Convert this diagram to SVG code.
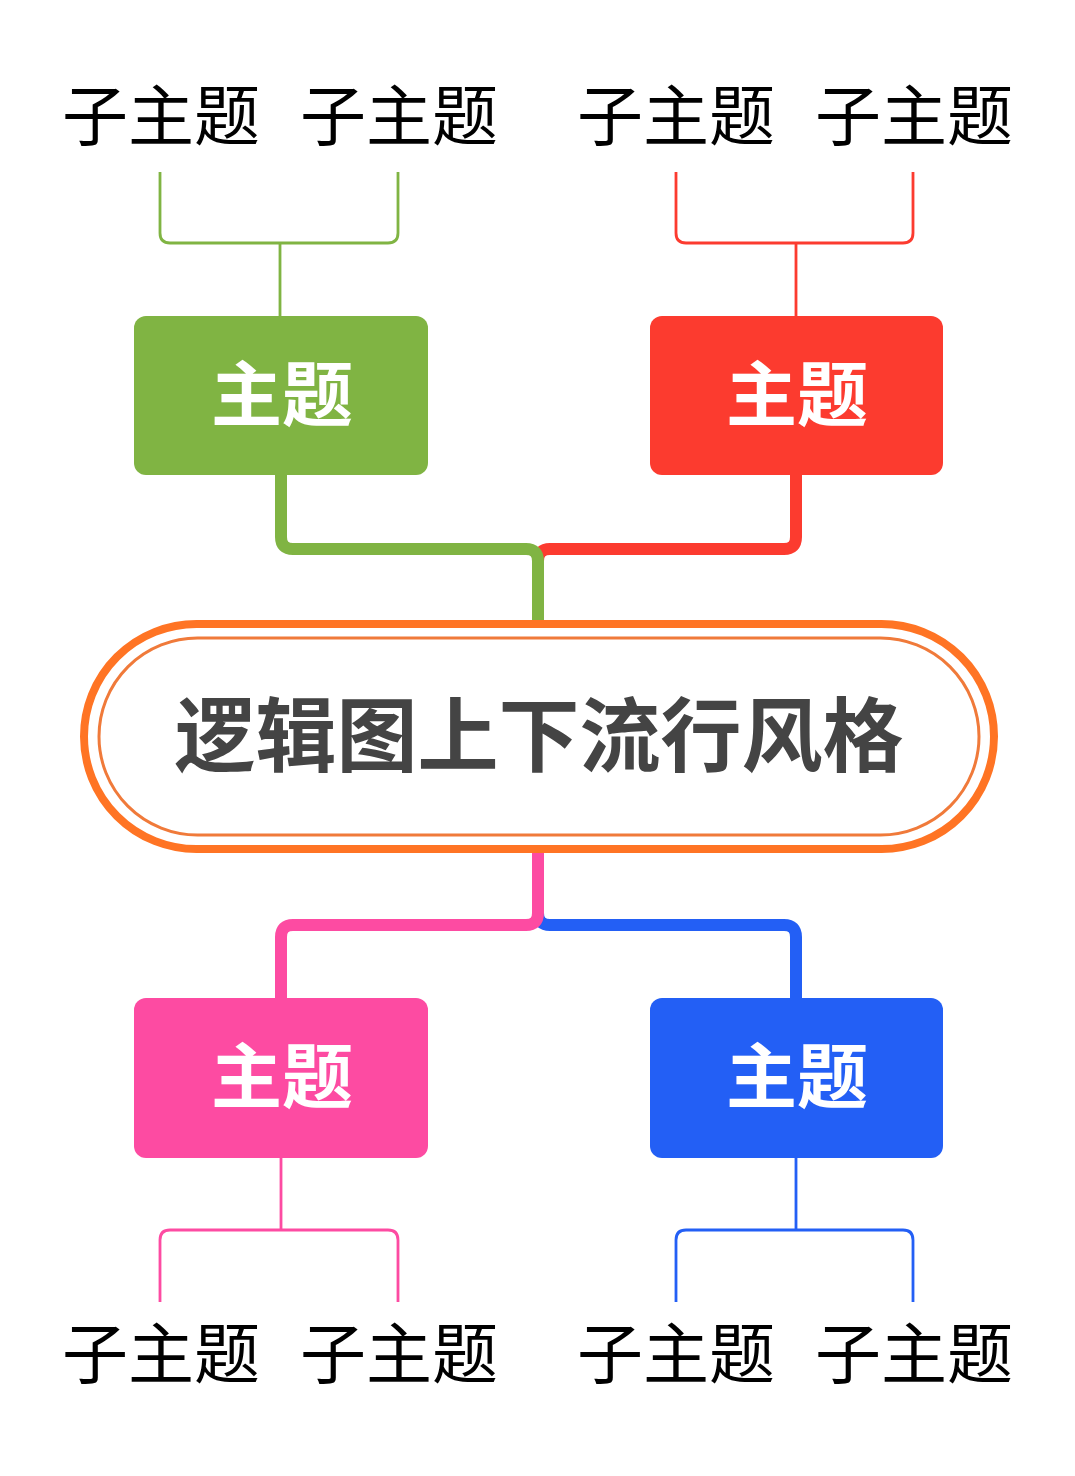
<svg xmlns="http://www.w3.org/2000/svg" width="1075" height="1476" viewBox="0 0 1075 1476">
<style>
.sub{font-family:"Noto Sans CJK SC","Noto Sans",sans-serif;font-size:66px;fill:#000;text-anchor:middle}
.topic{font-family:"Noto Sans CJK SC","Noto Sans",sans-serif;font-size:71px;font-weight:bold;fill:#fff;text-anchor:middle}
.title{font-family:"Noto Sans CJK SC","Noto Sans",sans-serif;font-size:81px;font-weight:bold;fill:#444;text-anchor:middle}
.thick{fill:none;stroke-width:12;stroke-linejoin:round}
.thin{fill:none;stroke-width:2.8}
</style>
<rect width="1075" height="1476" fill="#fff"/>
<g id="connectors">
<path class="thick" stroke="#FC3B2F" d="M796 475 V537 Q796 549 784 549 H550 Q538 549 538 561"/>
<path class="thick" stroke="#80B443" d="M281 475 V537 Q281 549 293 549 H526 Q538 549 538 561 V624"/>
<path class="thick" stroke="#235FF5" d="M538 913 Q538 925 550 925 H784 Q796 925 796 937 V998"/>
<path class="thick" stroke="#FD4BA2" d="M538 850 V913 Q538 925 526 925 H293 Q281 925 281 937 V998"/>
<path class="thin" stroke="#80B443" d="M160 172 V233 Q160 243 170 243 H388 Q398 243 398 233 V172 M280 243 V316"/>
<path class="thin" stroke="#FC3B2F" d="M676 172 V233 Q676 243 686 243 H903 Q913 243 913 233 V172 M796 243 V316"/>
<path class="thin" stroke="#FD4BA2" d="M281 1158 V1230 M160 1302 V1240 Q160 1230 170 1230 H388 Q398 1230 398 1240 V1302"/>
<path class="thin" stroke="#235FF5" d="M796 1158 V1230 M676 1302 V1240 Q676 1230 686 1230 H903 Q913 1230 913 1240 V1302"/>
</g>
<g id="root">
<rect x="84" y="624" width="910" height="225" rx="112.5" fill="#fff" stroke="#FF7424" stroke-width="8"/>
<rect x="99" y="638" width="880" height="197" rx="98.5" fill="none" stroke="#F07A3A" stroke-width="3"/>
<text class="title" x="539" y="765">逻辑图上下流行风格</text>
</g>
<g id="topic-green">
<rect x="134" y="316" width="294" height="159" rx="12" fill="#80B443"/>
<text class="topic" x="282" y="420">主题</text>
</g>
<g id="topic-red">
<rect x="650" y="316" width="293" height="159" rx="12" fill="#FC3B2F"/>
<text class="topic" x="797" y="420">主题</text>
</g>
<g id="topic-pink">
<rect x="134" y="998" width="294" height="160" rx="12" fill="#FD4BA2"/>
<text class="topic" x="282" y="1102">主题</text>
</g>
<g id="topic-blue">
<rect x="650" y="998" width="293" height="160" rx="12" fill="#235FF5"/>
<text class="topic" x="797" y="1102">主题</text>
</g>
<g id="sub-top-1"><text class="sub" x="161" y="140">子主题</text></g>
<g id="sub-top-2"><text class="sub" x="399" y="140">子主题</text></g>
<g id="sub-top-3"><text class="sub" x="676" y="140">子主题</text></g>
<g id="sub-top-4"><text class="sub" x="914" y="140">子主题</text></g>
<g id="sub-bot-1"><text class="sub" x="161" y="1378">子主题</text></g>
<g id="sub-bot-2"><text class="sub" x="399" y="1378">子主题</text></g>
<g id="sub-bot-3"><text class="sub" x="676" y="1378">子主题</text></g>
<g id="sub-bot-4"><text class="sub" x="914" y="1378">子主题</text></g>
</svg>
